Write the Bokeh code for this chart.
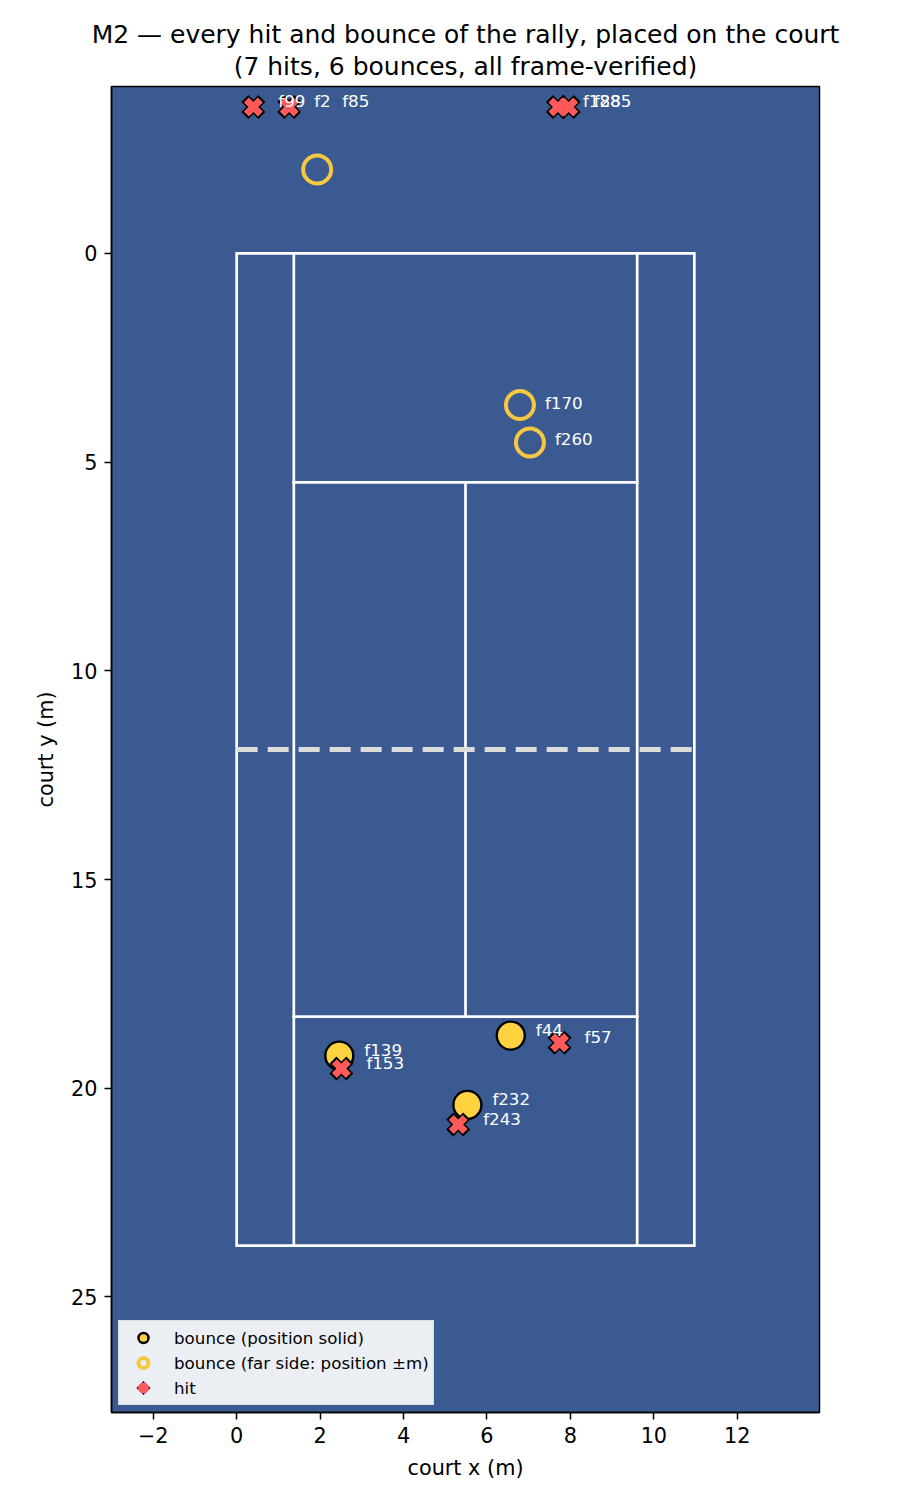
import numpy as np
from bokeh.plotting import figure
from bokeh.models import Range1d, Legend, LegendItem, ColumnDataSource, FixedTicker, Title
from bokeh.core.properties import value
from bokeh.embed import file_html
from bokeh.resources import INLINE

# ---------------- data (court metres) ----------------
bounce_solid_frames = ["f44", "f139", "f232"]
bounce_solid_x = [6.57, 2.46, 5.53]
bounce_solid_y = [18.74, 19.22, 20.40]

bounce_far_frames = ["f85", "f170", "f260"]
bounce_far_x = [1.93, 6.79, 7.03]
bounce_far_y = [-2.01, 3.63, 4.53]
bounce_far_label_y = [-3.52, 3.72, 4.59]

hit_frames = ["f2", "f57", "f99", "f153", "f188", "f243", "f285"]
hit_x = [1.26, 7.74, 0.40, 2.51, 7.70, 5.31, 7.96]
hit_y = [-3.51, 18.91, -3.51, 19.53, -3.51, 20.87, -3.51]

# court geometry (ITF)
COURT_LEN = 23.77
COURT_W = 10.97
SINGLES_IN = 1.37
SERVICE_FROM_NET = 6.40

title_lines = ["M2 \u2014 every hit and bounce of the rally, placed on the court",
               "(7 hits, 6 bounces, all frame-verified)"]
x_ticks = [-2, 0, 2, 4, 6, 8, 10, 12]
y_ticks = [0, 5, 10, 15, 20, 25]

FONT = "DejaVu Sans"
BG = "#3b5a91"
YELLOW = "#ffd23f"
RED = "#ff5a5a"

# ---------------- figure ----------------
p = figure(frame_width=708, frame_height=1326, title=None,
           x_range=Range1d(-3, COURT_W + 3), y_range=Range1d(COURT_LEN + 4, -4),
           output_backend="svg", toolbar_location=None,
           min_border_left=111, min_border_right=81, min_border_top=86, min_border_bottom=88,
           background_fill_color=BG, border_fill_color="white")
p.xgrid.visible = False
p.ygrid.visible = False
p.outline_line_color = "black"
p.outline_line_width = 1.5

# title: second line nearest the frame, first line above it
p.add_layout(Title(text=title_lines[1], align="center", text_font=FONT, text_font_size="25px",
                   text_font_style="normal", text_color="black", standoff=11), "above")
p.add_layout(Title(text=title_lines[0], align="center", text_font=FONT, text_font_size="25px",
                   text_font_style="normal", text_color="black", standoff=-8), "above")

for ax in (p.xaxis[0], p.yaxis[0]):
    ax.axis_line_color = "black"
    ax.axis_line_width = 1.5
    ax.major_tick_line_color = "black"
    ax.major_tick_line_width = 1.5
    ax.major_tick_out = 7
    ax.major_tick_in = 0
    ax.minor_tick_line_color = None
    ax.major_label_text_font = FONT
    ax.major_label_text_font_size = "20.8px"
    ax.major_label_text_color = "black"
    ax.major_label_standoff = 7
    ax.axis_label_text_font = FONT
    ax.axis_label_text_font_size = "20.8px"
    ax.axis_label_text_font_style = "normal"
    ax.axis_label_text_color = "black"
    ax.axis_label_standoff = 10

p.xaxis.ticker = FixedTicker(ticks=x_ticks)
p.yaxis.ticker = FixedTicker(ticks=y_ticks)
p.xaxis.major_label_overrides = {t: str(t).replace("-", "\u2212") for t in x_ticks}
p.xaxis.axis_label = "court x (m)"
p.yaxis.axis_label = "court y (m)"

# ---------------- court ----------------
half = COURT_LEN / 2
sl_top = half - SERVICE_FROM_NET
sl_bot = half + SERVICE_FROM_NET
xs_court = [[0, COURT_W, COURT_W, 0, 0],
            [SINGLES_IN, SINGLES_IN],
            [COURT_W - SINGLES_IN, COURT_W - SINGLES_IN],
            [SINGLES_IN, COURT_W - SINGLES_IN],
            [SINGLES_IN, COURT_W - SINGLES_IN],
            [COURT_W / 2, COURT_W / 2]]
ys_court = [[0, 0, COURT_LEN, COURT_LEN, 0],
            [0, COURT_LEN],
            [0, COURT_LEN],
            [sl_top, sl_top],
            [sl_bot, sl_bot],
            [sl_top, sl_bot]]
p.multi_line(xs_court, ys_court, line_color="white", line_width=2.7,
             line_join="miter", line_cap="square")
p.line([0, COURT_W], [half, half], line_color="#dcdcdc", line_width=5, line_dash="21 10")

# ---------------- marks ----------------
src_solid = ColumnDataSource(dict(x=bounce_solid_x, y=bounce_solid_y, t=bounce_solid_frames))
src_far = ColumnDataSource(dict(x=bounce_far_x, y=bounce_far_y, ly=bounce_far_label_y, t=bounce_far_frames))
src_hit = ColumnDataSource(dict(x=hit_x, y=hit_y, t=hit_frames))

r_solid = p.scatter("x", "y", source=src_solid, marker="circle", size=28,
                    fill_color=YELLOW, line_color="black", line_width=2.4)
r_far = p.scatter("x", "y", source=src_far, marker="circle", size=28,
                  fill_color=None, line_color="#f5c842", line_width=4)
r_hit_o = p.scatter("x", "y", source=src_hit, marker="x", size=24,
                    line_color="black", line_width=10, line_cap="butt")
r_hit = p.scatter("x", "y", source=src_hit, marker="x", size=19.7,
                  line_color=RED, line_width=7, line_cap="butt")

lab_kw = dict(text_font=value(FONT), text_font_size="16.7px", text_color="white",
              text_align="left", text_baseline="middle", x_offset=25, y_offset=-6)
p.text("x", "y", text="t", source=src_solid, **lab_kw)
p.text("x", "ly", text="t", source=src_far, **lab_kw)
p.text("x", "y", text="t", source=src_hit, **lab_kw)

# ---------------- legend ----------------
legend = Legend(items=[LegendItem(label="bounce (position solid)", renderers=[r_solid]),
                       LegendItem(label="bounce (far side: position \u00b1m)", renderers=[r_far]),
                       LegendItem(label="hit", renderers=[r_hit_o, r_hit])],
                location="bottom_left", margin=7, padding=4, spacing=0,
                glyph_height=25, glyph_width=40, label_standoff=11, label_height=25,
                label_text_font=FONT, label_text_font_size="16.7px", label_text_color="black",
                background_fill_color="white", background_fill_alpha=0.9,
                border_line_color="#cccccc", border_line_width=1)
p.add_layout(legend)

open("out.html", "w").write(file_html(p, INLINE))
